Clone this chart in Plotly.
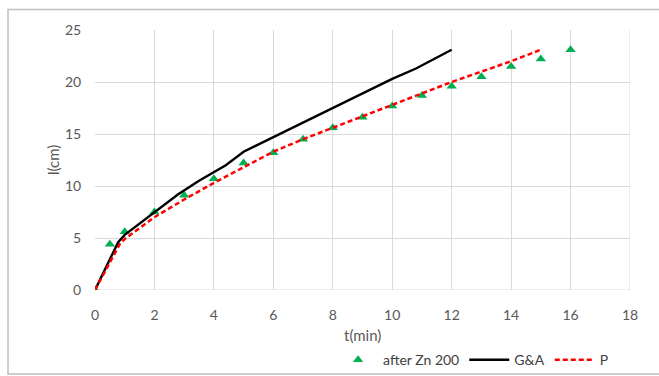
import plotly.graph_objects as go

# Measured lengths after Zn 200
t_meas = [0, 0.5, 1, 2, 3, 4, 5, 6, 7, 8, 9, 10, 11, 12, 13, 14, 15, 16]
l_meas = [0, 4.4, 5.6, 7.5, 9.1, 10.7, 12.2, 13.2, 14.5, 15.6, 16.6, 17.7, 18.7, 19.6, 20.5, 21.5, 22.2, 23.1]

# G&A model
t_ga = [0, 0.78, 1, 2, 2.8, 3.5, 4.4, 5, 6, 7, 8, 9, 10, 10.8, 12]
l_ga = [0, 4.6, 5.3, 7.5, 9.2, 10.5, 12.0, 13.3, 14.7, 16.1, 17.5, 18.9, 20.3, 21.3, 23.1]

# P model
t_p = [0, 0.85, 1, 2, 3, 4, 5, 6, 7, 8, 9, 10, 11, 12, 13, 14, 15]
l_p = [0, 4.5, 4.9, 7.0, 8.7, 10.3, 11.8, 13.3, 14.5, 15.6, 16.7, 17.8, 18.9, 20.0, 21.0, 22.0, 23.1]

x_ticks = list(range(0, 19, 2))
y_ticks = list(range(0, 26, 5))

grey_text = "#595959"
grid = "#d9d9d9"
font_family = "Lato, 'Liberation Sans', sans-serif"

fig = go.Figure()
fig.add_trace(go.Scatter(
    x=t_meas, y=l_meas, mode="markers", name="after Zn 200",
    marker=dict(symbol="triangle-up", size=9, color="#00b050"),
))
fig.add_trace(go.Scatter(
    x=t_ga, y=l_ga, mode="lines", name="G&A",
    line=dict(color="black", width=2.4),
))
fig.add_trace(go.Scatter(
    x=t_p, y=l_p, mode="lines", name="P",
    line=dict(color="#ff0000", width=2.5, dash="5px,3px"),
))

fig.update_layout(
    width=659, height=376,
    margin=dict(l=95, r=29, t=30, b=86, autoexpand=False),
    paper_bgcolor="white", plot_bgcolor="white",
    font=dict(family=font_family, size=14, color=grey_text),
    showlegend=True,
    legend=dict(
        orientation="h", x=0.445, xanchor="left", y=-0.27, yanchor="middle",
        font=dict(size=14, color="#404040"), itemwidth=40, tracegroupgap=0,
        bgcolor="rgba(0,0,0,0)",
    ),
    xaxis=dict(
        range=[0, 18], tickvals=x_ticks, showgrid=True, gridcolor=grid, gridwidth=1,
        zeroline=False, showline=False, ticks="outside", ticklen=12, tickcolor="rgba(0,0,0,0)",
        automargin=False,
    ),
    yaxis=dict(
        range=[0, 25], tickvals=y_ticks, showgrid=True, gridcolor=grid, gridwidth=1,
        zeroline=False, showline=False, ticks="outside", ticklen=10, tickcolor="rgba(0,0,0,0)",
        automargin=False,
    ),
    annotations=[
        dict(text="t(min)", xref="paper", yref="paper", x=0.5, y=-0.173,
             xanchor="center", yanchor="middle", showarrow=False,
             font=dict(size=15, color=grey_text)),
        dict(text="l(cm)", xref="paper", yref="paper", x=-0.0785, y=0.5,
             xanchor="center", yanchor="middle", showarrow=False, textangle=-90,
             font=dict(size=15, color=grey_text)),
    ],
    shapes=[
        # chart frame
        dict(type="rect", xref="paper", yref="paper",
             x0=-0.1626, x1=1.06, y0=-0.323, y1=1.079,
             line=dict(color="#bfbfbf", width=1.5), fillcolor="rgba(0,0,0,0)", layer="below"),
        # outer grid edges
        dict(type="line", xref="x", yref="y", x0=0, x1=18, y0=0, y1=0,
             line=dict(color=grid, width=1), layer="below"),
        dict(type="line", xref="x", yref="y", x0=18, x1=18, y0=0, y1=25,
             line=dict(color=grid, width=1), layer="below"),
    ],
)

fig.write_html("out.html")
